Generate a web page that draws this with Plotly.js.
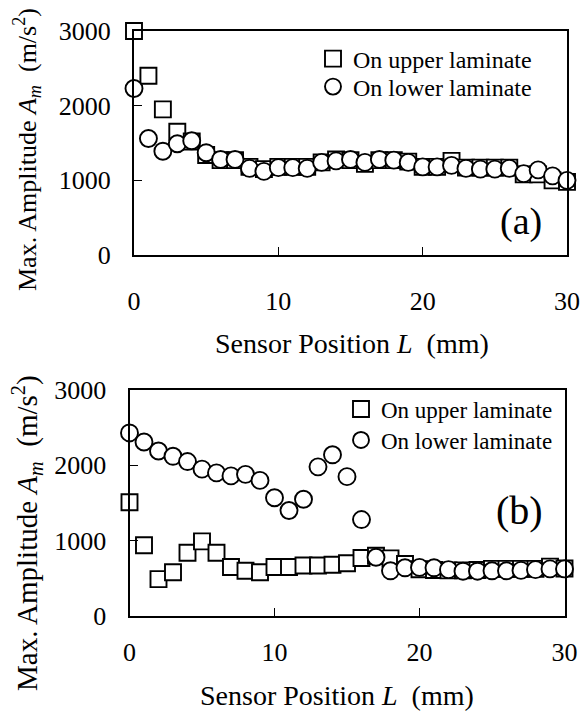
<!DOCTYPE html>
<html>
<head>
<meta charset="utf-8">
<script src="https://cdn.plot.ly/plotly-3.0.1.min.js"></script>
<style>html,body{margin:0;padding:0;background:#fff;}#chart{width:582px;height:720px;}</style>
</head>
<body>
<div id="chart"></div>
<script>
// Sensor positions (mm)
const positions = [0,1,2,3,4,5,6,7,8,9,10,11,12,13,14,15,16,17,18,19,20,21,22,23,24,25,26,27,28,29,30];

// (a) Max. amplitude (m/s^2)
const aUpper = [3000,2400,1950,1650,1520,1340,1270,1270,1180,1150,1180,1180,1180,1240,1280,1270,1220,1270,1270,1250,1180,1180,1260,1170,1170,1170,1170,1080,1080,1000,980];
const aLower = [2230,1560,1390,1490,1530,1370,1280,1280,1160,1120,1170,1170,1160,1240,1260,1280,1240,1280,1270,1240,1180,1180,1200,1160,1150,1150,1160,1090,1140,1060,1000];

// (b) Max. amplitude (m/s^2)
const bUpper = [1510,940,490,580,840,990,840,650,600,580,650,650,670,670,680,700,770,800,765,690,620,610,605,605,610,625,625,625,625,655,630];
const bLower = [2430,2310,2190,2120,2050,1950,1900,1860,1880,1800,1570,1400,1550,1980,2140,1850,1280,780,600,640,645,640,615,595,595,600,600,605,615,625,625];

const seriesNames = ['On upper laminate', 'On lower laminate'];
const xTicks = [0,10,20,30];
const yTicks = [0,1000,2000,3000];

const W = 582, H = 720;
const FONT = '"Liberation Serif", "Times New Roman", Times, serif';
const px = v => v / W;
const py = v => 1 - v / H;

const sqMarker = {symbol:'square', size:16, color:'#ffffff', line:{color:'#000000', width:1.9}};
const ciMarker = {symbol:'circle', size:17, color:'#ffffff', line:{color:'#000000', width:1.9}};

const traces = [
  {x:positions, y:aUpper, name:seriesNames[0], type:'scatter', mode:'markers', marker:sqMarker, xaxis:'x', yaxis:'y', legend:'legend', cliponaxis:false},
  {x:positions, y:aLower, name:seriesNames[1], type:'scatter', mode:'markers', marker:ciMarker, xaxis:'x', yaxis:'y', legend:'legend2', cliponaxis:false},
  {x:positions, y:bUpper, name:seriesNames[0], type:'scatter', mode:'markers', marker:sqMarker, xaxis:'x2', yaxis:'y2', legend:'legend3', cliponaxis:false},
  {x:positions, y:bLower, name:seriesNames[1], type:'scatter', mode:'markers', marker:ciMarker, xaxis:'x2', yaxis:'y2', legend:'legend4', cliponaxis:false}
];

function xAxis(domain, anchor, standoff) {
  return {domain:domain, anchor:anchor, range:[0,30], tickvals:xTicks, ticktext:xTicks.map(String),
    ticks:'inside', ticklen:8, tickwidth:1.5, tickcolor:'#000', showline:true, mirror:true, linecolor:'#000', linewidth:2,
    showgrid:false, zeroline:false, automargin:false, ticklabelstandoff:standoff,
    tickfont:{family:FONT, size:26, color:'#000'}, fixedrange:true};
}
function yAxis(domain, anchor) {
  return {domain:domain, anchor:anchor, range:[0,3000], tickvals:yTicks, ticktext:yTicks.map(String),
    ticks:'inside', ticklen:8, tickwidth:1.5, tickcolor:'#000', showline:true, mirror:true, linecolor:'#000', linewidth:2,
    showgrid:false, zeroline:false, automargin:false, ticklabelstandoff:16,
    tickfont:{family:FONT, size:26, color:'#000'}, fixedrange:true};
}
function legendAt(xl, yc, size) {
  return {x:px(xl), y:py(yc), xanchor:'left', yanchor:'middle', bgcolor:'rgba(0,0,0,0)', borderwidth:0,
    font:{family:FONT, size:size, color:'#000'}, itemwidth:30, tracegroupgap:0};
}

const yTitle = 'Max. Amplitude <i>A<sub>m</sub></i>  (m/s<sup>2</sup>)';
const xTitle = 'Sensor Position <i>L</i>  (mm)';

const layout = {
  width:W, height:H,
  margin:{l:0, r:0, t:0, b:0},
  paper_bgcolor:'#fff', plot_bgcolor:'#fff',
  font:{family:FONT, color:'#000'},
  xaxis: xAxis([px(134), px(567)], 'y', 22),
  yaxis: yAxis([py(255), py(31)], 'x'),
  xaxis2: xAxis([px(129.5), px(564.5)], 'y2', 12),
  yaxis2: yAxis([py(616), py(390)], 'x2'),
  legend: legendAt(313, 59, 24),
  legend2: legendAt(313, 87, 24),
  legend3: legendAt(341, 409, 23),
  legend4: legendAt(341, 440, 23),
  annotations:[
    {text:xTitle, xref:'paper', yref:'paper', x:px(352), y:py(343), xanchor:'center', yanchor:'middle', showarrow:false, font:{family:FONT, size:28, color:'#000'}},
    {text:xTitle, xref:'paper', yref:'paper', x:px(337), y:py(695), xanchor:'center', yanchor:'middle', showarrow:false, font:{family:FONT, size:28, color:'#000'}},
    {text:yTitle, xref:'paper', yref:'paper', x:px(27), y:py(150), xanchor:'center', yanchor:'middle', textangle:-90, showarrow:false, font:{family:FONT, size:26, color:'#000'}},
    {text:yTitle, xref:'paper', yref:'paper', x:px(27), y:py(533), xanchor:'center', yanchor:'middle', textangle:-90, showarrow:false, font:{family:FONT, size:29, color:'#000'}},
    {text:'(a)', xref:'paper', yref:'paper', x:px(521), y:py(221), xanchor:'center', yanchor:'middle', showarrow:false, font:{family:FONT, size:38, color:'#000'}},
    {text:'(b)', xref:'paper', yref:'paper', x:px(519), y:py(510), xanchor:'center', yanchor:'middle', showarrow:false, font:{family:FONT, size:40, color:'#000'}}
  ],
  showlegend:true
};

Plotly.newPlot('chart', traces, layout, {staticPlot:true, displayModeBar:false});
</script>
</body>
</html>
